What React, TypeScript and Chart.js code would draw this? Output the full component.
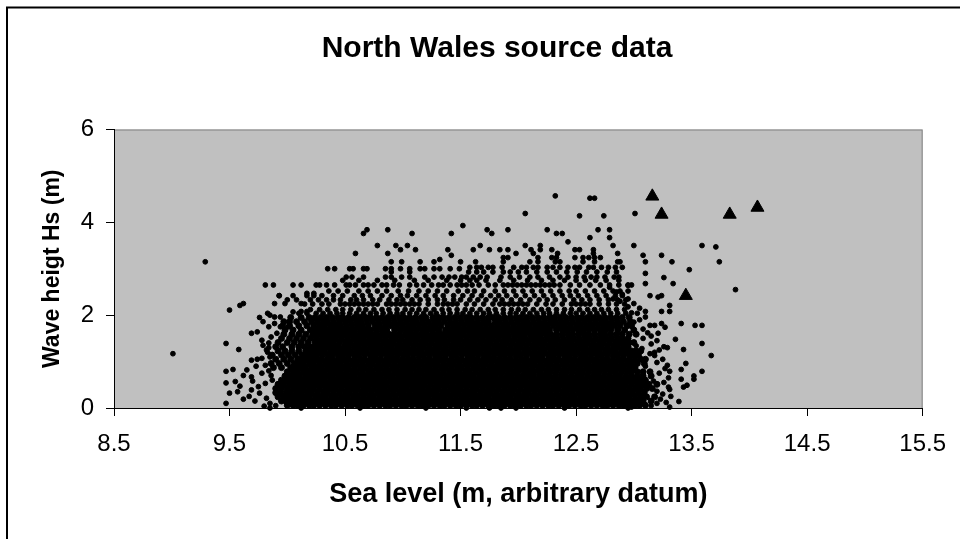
import React, { useEffect, useRef } from 'react';
import { Chart, registerables } from 'chart.js';

Chart.register(...registerables);

const chartTitle = 'North Wales source data';
const xAxisTitle = 'Sea level (m, arbitrary datum)';
const yAxisTitle = 'Wave heigt Hs (m)';

const xTickValues = [8.5, 9.5, 10.5, 11.5, 12.5, 13.5, 14.5, 15.5];
const yTickValues = [0, 2, 4, 6];

// Hs levels (m) and the sea levels (m) of the records seen along each level
const hsLevels = [
  0.06, 0.15, 0.24, 0.33, 0.42, 0.51, 0.6, 0.69, 0.78, 0.87, 0.96, 1.05, 1.14, 1.23, 1.32, 1.41, 1.5,
  1.59, 1.68, 1.77, 1.86, 1.95, 2.04, 2.12, 2.24, 2.33, 2.42, 2.52, 2.65, 2.75, 2.82,
  2.93, 3.0, 3.03, 3.15, 3.2, 3.24, 3.29, 3.33, 3.41, 3.47, 3.5, 3.58, 3.67, 3.76, 3.84, 3.93, 4.14, 4.19, 4.52, 4.57,
];

const seaLevelRows: number[][] = [
  [10.0,10.05,10.09,10.14,10.19,10.23,10.28,10.33,10.38,10.42,10.47,10.52,10.56,10.61,10.66,10.7,10.75,10.8,10.85,10.89,10.94,10.99,11.03,11.08,11.13,11.17,11.22,11.27,11.32,11.36,11.41,11.46,11.5,11.55,11.6,11.64,11.69,11.74,11.79,11.83,11.88,11.93,11.97,12.02,12.07,12.11,12.16,12.21,12.26,12.3,12.35,12.4,12.44,12.49,12.54,12.58,12.63,12.68,12.73,12.77,12.82,12.87,12.91,12.96,13.01,13.05,13.1],
  [9.95,9.99,10.03,10.07,10.12,10.16,10.21,10.26,10.3,10.35,10.4,10.45,10.49,10.54,10.59,10.63,10.68,10.73,10.77,10.82,10.87,10.92,10.96,11.01,11.06,11.1,11.15,11.2,11.24,11.29,11.34,11.39,11.43,11.48,11.53,11.57,11.62,11.67,11.71,11.76,11.81,11.86,11.9,11.95,12.0,12.04,12.09,12.14,12.18,12.23,12.28,12.33,12.37,12.42,12.47,12.51,12.56,12.61,12.65,12.7,12.75,12.8,12.84,12.89,12.94,12.98,13.03,13.08,13.15],
  [9.92,9.97,10.01,10.05,10.1,10.14,10.19,10.24,10.28,10.33,10.38,10.42,10.47,10.52,10.57,10.61,10.66,10.71,10.75,10.8,10.85,10.89,10.94,10.99,11.04,11.08,11.13,11.18,11.22,11.27,11.32,11.36,11.41,11.46,11.51,11.55,11.6,11.65,11.69,11.74,11.79,11.83,11.88,11.93,11.98,12.02,12.07,12.12,12.16,12.21,12.26,12.3,12.35,12.4,12.45,12.49,12.54,12.59,12.63,12.68,12.73,12.77,12.82,12.87,12.92,12.96,13.01,13.06,13.11,13.18],
  [9.9,9.94,9.99,10.03,10.08,10.12,10.17,10.21,10.26,10.31,10.35,10.4,10.45,10.5,10.54,10.59,10.64,10.68,10.73,10.78,10.82,10.87,10.92,10.97,11.01,11.06,11.11,11.15,11.2,11.25,11.29,11.34,11.39,11.44,11.48,11.53,11.58,11.62,11.67,11.72,11.76,11.81,11.86,11.91,11.95,12.0,12.05,12.09,12.14,12.19,12.23,12.28,12.33,12.38,12.42,12.47,12.52,12.56,12.61,12.66,12.7,12.75,12.8,12.85,12.89,12.94,12.99,13.04,13.09],
  [9.9,9.95,10.0,10.05,10.1,10.14,10.19,10.23,10.28,10.33,10.37,10.42,10.47,10.52,10.56,10.61,10.66,10.7,10.75,10.8,10.84,10.89,10.94,10.99,11.03,11.08,11.13,11.17,11.22,11.27,11.31,11.36,11.41,11.46,11.5,11.55,11.6,11.64,11.69,11.74,11.78,11.83,11.88,11.93,11.97,12.02,12.07,12.11,12.16,12.21,12.25,12.3,12.35,12.4,12.44,12.49,12.54,12.58,12.63,12.68,12.72,12.77,12.82,12.87,12.91,12.96,13.01,13.06,13.11,13.16],
  [9.92,9.97,10.02,10.07,10.12,10.17,10.21,10.26,10.3,10.35,10.39,10.44,10.49,10.54,10.58,10.63,10.68,10.72,10.77,10.82,10.86,10.91,10.96,11.01,11.05,11.1,11.15,11.19,11.24,11.29,11.33,11.38,11.43,11.48,11.52,11.57,11.62,11.66,11.71,11.76,11.8,11.85,11.9,11.95,11.99,12.04,12.09,12.13,12.18,12.23,12.27,12.32,12.37,12.42,12.46,12.51,12.56,12.6,12.65,12.7,12.74,12.79,12.84,12.89,12.93,12.98,13.03,13.08,13.13,13.2],
  [9.95,10.0,10.04,10.09,10.14,10.19,10.23,10.28,10.32,10.37,10.42,10.46,10.51,10.56,10.6,10.65,10.7,10.75,10.79,10.84,10.89,10.93,10.98,11.03,11.07,11.12,11.17,11.22,11.26,11.31,11.36,11.4,11.45,11.5,11.54,11.59,11.64,11.69,11.73,11.78,11.83,11.87,11.92,11.97,12.01,12.06,12.11,12.16,12.2,12.25,12.3,12.34,12.39,12.44,12.48,12.53,12.58,12.63,12.67,12.72,12.77,12.81,12.86,12.91,12.95,13.0,13.05,13.1],
  [9.98,10.02,10.07,10.11,10.16,10.21,10.25,10.3,10.34,10.39,10.44,10.49,10.53,10.58,10.63,10.67,10.72,10.77,10.81,10.86,10.91,10.96,11.0,11.05,11.1,11.14,11.19,11.24,11.28,11.33,11.38,11.43,11.47,11.52,11.57,11.61,11.66,11.71,11.75,11.8,11.85,11.9,11.94,11.99,12.04,12.08,12.13,12.18,12.22,12.27,12.32,12.37,12.41,12.46,12.51,12.55,12.6,12.65,12.69,12.74,12.79,12.84,12.88,12.93,12.98,13.03,13.08,13.15],
  [10.0,10.05,10.09,10.14,10.18,10.23,10.28,10.32,10.37,10.42,10.46,10.51,10.56,10.6,10.65,10.7,10.74,10.79,10.84,10.88,10.93,10.98,11.02,11.07,11.12,11.16,11.21,11.26,11.3,11.35,11.4,11.44,11.49,11.54,11.58,11.63,11.68,11.72,11.77,11.82,11.86,11.91,11.96,12.0,12.05,12.1,12.14,12.19,12.24,12.28,12.33,12.38,12.42,12.47,12.52,12.56,12.61,12.66,12.7,12.75,12.8,12.84,12.89,12.94,12.98,13.03,13.08,13.14],
  [9.88,9.95,10.03,10.07,10.12,10.16,10.21,10.25,10.3,10.35,10.39,10.44,10.49,10.53,10.58,10.63,10.67,10.72,10.77,10.81,10.86,10.91,10.95,11.0,11.05,11.09,11.14,11.19,11.23,11.28,11.33,11.37,11.42,11.47,11.51,11.56,11.61,11.65,11.7,11.75,11.79,11.84,11.89,11.93,11.98,12.03,12.07,12.12,12.17,12.21,12.26,12.31,12.35,12.4,12.45,12.49,12.54,12.59,12.63,12.68,12.73,12.77,12.82,12.87,12.91,12.96,13.01],
  [9.86,9.93,10.0,10.06,10.1,10.14,10.19,10.23,10.28,10.33,10.37,10.42,10.46,10.51,10.56,10.6,10.65,10.7,10.74,10.79,10.84,10.88,10.93,10.98,11.02,11.07,11.12,11.16,11.21,11.26,11.3,11.35,11.4,11.44,11.49,11.54,11.58,11.63,11.68,11.72,11.77,11.82,11.86,11.91,11.96,12.0,12.05,12.1,12.14,12.19,12.24,12.28,12.33,12.38,12.42,12.47,12.52,12.56,12.61,12.66,12.7,12.75,12.8,12.84,12.89,12.94,12.98,13.03,13.09],
  [9.9,9.97,10.03,10.09,10.12,10.16,10.21,10.26,10.3,10.35,10.39,10.44,10.49,10.53,10.58,10.63,10.67,10.72,10.77,10.81,10.86,10.91,10.95,11.0,11.05,11.09,11.14,11.19,11.23,11.28,11.33,11.37,11.42,11.47,11.51,11.56,11.61,11.65,11.7,11.75,11.79,11.84,11.89,11.93,11.98,12.03,12.07,12.12,12.17,12.21,12.26,12.31,12.35,12.4,12.45,12.49,12.54,12.59,12.63,12.68,12.73,12.77,12.82,12.87,12.91,12.96,13.01,13.06,13.1],
  [9.87,9.95,10.01,10.07,10.13,10.17,10.21,10.25,10.3,10.35,10.39,10.44,10.48,10.53,10.58,10.62,10.67,10.72,10.76,10.81,10.86,10.9,10.95,11.0,11.04,11.09,11.14,11.18,11.23,11.28,11.32,11.37,11.42,11.46,11.51,11.56,11.6,11.65,11.7,11.74,11.79,11.84,11.88,11.93,11.98,12.02,12.07,12.12,12.16,12.21,12.26,12.3,12.35,12.4,12.44,12.49,12.54,12.58,12.63,12.68,12.72,12.77,12.82,12.86,12.91,12.96,13.0,13.04],
  [9.92,9.98,10.04,10.1,10.16,10.2,10.24,10.28,10.32,10.37,10.41,10.46,10.51,10.55,10.6,10.65,10.69,10.74,10.79,10.83,10.88,10.93,10.97,11.02,11.07,11.11,11.16,11.21,11.25,11.3,11.35,11.39,11.44,11.49,11.53,11.58,11.63,11.67,11.72,11.77,11.81,11.86,11.91,11.95,12.0,12.05,12.09,12.14,12.19,12.23,12.28,12.33,12.37,12.42,12.47,12.51,12.56,12.61,12.65,12.7,12.75,12.79,12.84,12.89,12.93,12.98,13.02,13.06],
  [9.9,9.96,10.04,10.1,10.15,10.2,10.24,10.28,10.32,10.36,10.4,10.44,10.49,10.53,10.58,10.62,10.67,10.72,10.76,10.81,10.86,10.9,10.95,11.0,11.04,11.09,11.14,11.18,11.23,11.28,11.32,11.37,11.42,11.46,11.51,11.56,11.6,11.65,11.7,11.74,11.79,11.84,11.88,11.93,11.98,12.02,12.07,12.12,12.16,12.21,12.26,12.3,12.35,12.4,12.44,12.49,12.54,12.58,12.63,12.68,12.72,12.77,12.82,12.86,12.91,12.95],
  [9.92,10.0,10.06,10.12,10.18,10.24,10.28,10.32,10.36,10.4,10.45,10.5,10.55,10.6,10.64,10.69,10.74,10.78,10.83,10.88,10.92,10.97,11.02,11.06,11.11,11.16,11.2,11.25,11.3,11.34,11.39,11.44,11.48,11.53,11.58,11.62,11.67,11.72,11.76,11.81,11.86,11.9,11.95,12.0,12.04,12.09,12.14,12.18,12.23,12.28,12.32,12.37,12.42,12.46,12.51,12.56,12.6,12.65,12.7,12.74,12.79,12.84,12.88,12.92,12.96,13.0],
  [9.95,10.02,10.08,10.14,10.2,10.25,10.3,10.34,10.38,10.42,10.47,10.52,10.57,10.62,10.66,10.71,10.76,10.8,10.85,10.9,10.94,10.99,11.04,11.08,11.13,11.18,11.22,11.27,11.32,11.36,11.41,11.46,11.5,11.55,11.6,11.64,11.69,11.74,11.78,11.83,11.88,11.92,11.97,12.02,12.06,12.11,12.16,12.2,12.25,12.3,12.34,12.39,12.44,12.48,12.53,12.58,12.62,12.67,12.72,12.76,12.81,12.86,12.9,12.95],
  [9.97,10.04,10.1,10.16,10.22,10.27,10.31,10.36,10.41,10.45,10.5,10.55,10.59,10.64,10.69,10.73,10.78,10.83,10.88,10.92,10.97,11.02,11.06,11.11,11.16,11.2,11.25,11.3,11.34,11.39,11.44,11.49,11.53,11.58,11.63,11.67,11.72,11.77,11.81,11.86,11.91,11.96,12.0,12.05,12.1,12.14,12.19,12.24,12.28,12.33,12.38,12.43,12.47,12.52,12.57,12.61,12.66,12.71,12.75,12.8,12.85,12.9,12.96,13.02],
  [9.98,10.05,10.12,10.2,10.25,10.3,10.34,10.39,10.44,10.48,10.53,10.58,10.63,10.67,10.72,10.77,10.82,10.86,10.93,10.98,11.03,11.07,11.12,11.17,11.21,11.26,11.31,11.37,11.42,11.46,11.51,11.56,11.6,11.65,11.7,11.75,11.79,11.84,11.89,11.94,11.98,12.03,12.08,12.13,12.17,12.22,12.27,12.33,12.38,12.42,12.47,12.52,12.56,12.61,12.66,12.71,12.75,12.8,12.86,12.92,13.0],
  [9.96,10.02,10.1,10.17,10.23,10.28,10.32,10.37,10.42,10.46,10.51,10.56,10.61,10.65,10.7,10.76,10.8,10.85,10.9,10.95,11.0,11.05,11.09,11.14,11.19,11.24,11.28,11.33,11.39,11.44,11.48,11.53,11.58,11.62,11.67,11.72,11.77,11.82,11.87,11.91,11.96,12.01,12.06,12.1,12.15,12.2,12.25,12.3,12.35,12.4,12.45,12.5,12.54,12.59,12.64,12.69,12.74,12.78,12.83,12.88,12.94,12.98],
  [9.97,10.02,10.08,10.15,10.21,10.26,10.31,10.35,10.4,10.45,10.5,10.55,10.6,10.64,10.69,10.74,10.79,10.84,10.88,10.93,10.98,11.03,11.08,11.12,11.17,11.22,11.27,11.31,11.36,11.41,11.46,11.51,11.56,11.6,11.65,11.7,11.74,11.8,11.84,11.89,11.94,11.99,12.04,12.08,12.13,12.18,12.23,12.28,12.32,12.37,12.42,12.47,12.52,12.57,12.62,12.67,12.72,12.76,12.81,12.86,12.91,12.97],
  [10.03,10.12,10.19,10.24,10.29,10.34,10.39,10.44,10.48,10.53,10.58,10.63,10.68,10.72,10.77,10.82,10.87,10.92,10.97,11.01,11.06,11.11,11.16,11.2,11.26,11.31,11.35,11.4,11.45,11.5,11.55,11.59,11.64,11.69,11.74,11.78,11.83,11.88,11.93,11.98,12.02,12.07,12.12,12.17,12.22,12.27,12.31,12.36,12.41,12.46,12.51,12.55,12.6,12.65,12.7,12.75,12.8,12.85,12.9,12.96],
  [10.1,10.17,10.25,10.31,10.37,10.43,10.48,10.54,10.6,10.66,10.72,10.77,10.83,10.89,10.95,11.0,11.06,11.12,11.18,11.24,11.29,11.35,11.41,11.47,11.52,11.58,11.64,11.7,11.75,11.81,11.87,11.93,11.98,12.04,12.1,12.16,12.22,12.27,12.33,12.39,12.45,12.5,12.56,12.62,12.68,12.74,12.8,12.86,12.93],
  [10.2,10.28,10.35,10.42,10.48,10.55,10.62,10.68,10.75,10.82,10.88,10.95,11.02,11.08,11.14,11.2,11.27,11.34,11.4,11.47,11.54,11.6,11.67,11.74,11.8,11.87,11.94,12.0,12.06,12.13,12.2,12.26,12.33,12.4,12.46,12.53,12.6,12.66,12.72,12.78,12.85,12.92],
  [10.15,10.22,10.3,10.36,10.46,10.5,10.54,10.58,10.62,10.66,10.7,10.74,10.78,10.86,10.9,10.94,10.98,11.02,11.06,11.1,11.14,11.22,11.3,11.35,11.39,11.43,11.47,11.55,11.62,11.7,11.78,11.84,11.88,11.92,11.96,12.0,12.04,12.08,12.16,12.24,12.3,12.38,12.46,12.5,12.54,12.58,12.62,12.7,12.78,12.85,12.92],
  [10.0,10.08,10.2,10.27,10.34,10.4,10.46,10.55,10.6,10.66,10.74,10.8,10.88,10.95,11.0,11.08,11.15,11.22,11.3,11.36,11.44,11.5,11.58,11.65,11.72,11.8,11.86,11.94,12.02,12.1,12.18,12.25,12.32,12.4,12.48,12.55,12.62,12.7,12.78,12.86,12.93],
  [9.93,10.05,10.17,10.23,10.3,10.4,10.48,10.58,10.65,10.72,10.82,10.9,10.98,11.04,11.12,11.2,11.28,11.35,11.44,11.52,11.6,11.68,11.76,11.83,11.9,11.98,12.06,12.14,12.22,12.3,12.38,12.45,12.52,12.6,12.68,12.76,12.84,12.9],
  [10.36,10.44,10.52,10.62,10.7,10.78,10.86,10.96,11.05,11.14,11.22,11.3,11.38,11.48,11.56,11.62,11.7,11.8,11.88,11.96,12.04,12.12,12.2,12.28,12.36,12.44,12.5,12.58,12.66,12.74,12.82,12.88,12.95],
  [9.81,9.88,10.05,10.12,10.25,10.28,10.34,10.41,10.51,10.54,10.59,10.66,10.7,10.75,10.82,10.86,10.92,10.97,11.06,11.12,11.18,11.25,11.31,11.35,11.41,11.47,11.51,11.55,11.6,11.66,11.74,11.8,11.87,11.91,11.95,11.99,12.03,12.07,12.11,12.15,12.19,12.23,12.27,12.31,12.36,12.45,12.53,12.62,12.71,12.79,12.87,12.95,12.98],
  [10.48,10.62,10.78,10.93,11.1,11.22,11.38,11.5,11.58,11.64,11.72,11.84,11.96,12.08,12.2,12.3,12.4,12.5,12.58,12.67,12.76,12.87],
  [10.51,10.56,10.66,10.85,10.9,10.99,11.06,11.19,11.27,11.34,11.4,11.45,11.51,11.55,11.61,11.67,11.73,11.85,11.93,12.01,12.1,12.17,12.27,12.36,12.43,12.5,12.57,12.63,12.68,12.75,12.83,12.87],
  [10.9,11.06,11.57,11.64,11.7,11.78,11.87,11.93,12.0,12.07,12.16,12.25,12.33,12.42,12.51,12.59,12.68,12.77,12.85],
  [10.35,10.41,10.54,10.57,10.66,10.69,10.85,10.9,10.98,11.06,11.15,11.19,11.27,11.32,11.41,11.49],
  [11.58,11.64,11.68,11.74,11.78,11.86,11.96,12.03,12.07,12.13,12.17,12.25,12.3,12.36,12.43,12.49,12.53,12.61,12.65,12.72,12.78,12.84,12.9],
  [9.29,10.9,10.99,11.15,11.27,11.5,11.63,11.87,12.1,12.17,12.32,12.36,12.56,12.66,12.86,13.1,13.33,13.74],
  [11.32],
  [11.87,11.91,12.17,12.29,12.33,12.49,12.56,12.61,12.66,12.71],
  [11.42,13.08,13.24],
  [10.59,10.87,11.98,12.13,12.34,12.65,12.86],
  [10.98,11.11,11.39,11.61,11.75,11.84,11.91,12.11,12.19,12.29,12.49,12.53,12.65],
  [13.71],
  [10.78,10.94,11.04,11.67,12.06,12.19,12.82,13.0,13.59],
  [12.43],
  [12.62,12.79],
  [10.66,11.08,11.42,11.77,12.33,12.38],
  [10.69,10.87,11.73,11.91,12.25,12.69,12.79],
  [11.52],
  [12.53,12.74],
  [12.06,13.01],
  [12.62,12.66],
  [12.32],
];

// Isolated records at the fringes of the cloud: [sea level, Hs]
const fringePoints: [number, number][] = [
  [9.01, 1.17], [9.5, 2.11], [9.59, 2.21], [9.62, 2.25], [9.47, 1.39], [9.58, 1.26], [9.47, 0.79], [9.53, 0.83],
  [9.47, 0.54], [9.5, 0.32], [9.47, 0.1], [9.62, 0.7], [9.59, 0.47], [9.62, 0.19], [9.69, 0.39], [9.65, 0.82],
  [9.69, 1.03], [9.74, 1.05], [9.69, 0.67], [9.76, 1.95], [9.83, 2.04], [9.69, 1.61], [9.74, 1.64], [9.93, 2.42],
  [9.89, 2.25], [9.98, 2.25], [10.17, 2.47], [10.23, 2.47], [10.12, 2.25], [10.05, 2.07], [10.12, 2.08], [10.17, 2.08],
  [9.75, 0.46], [9.81, 0.53], [9.76, 0.32], [9.82, 0.21], [9.78, 1.46], [9.79, 1.35], [9.82, 1.25], [9.79, 1.86],
  [9.84, 1.75], [9.85, 2.0], [9.78, 1.07], [9.81, 0.92], [9.89, 1.96], [9.94, 1.96], [9.89, 1.82], [9.94, 1.75],
  [10.01, 1.75], [9.91, 1.61], [9.86, 1.53], [9.84, 1.4], [9.85, 1.1], [9.83, 1.2], [9.84, 1.3],
  [9.86, 0.7], [9.87, 0.6], [9.84, 0.8],
  [9.85, 0.1], [9.9, 0.05], [9.72, 0.15], [9.7, 0.58], [9.73, 0.9], [9.78, 0.75], [9.8, 0.04], [9.67, 0.25],
  [9.55, 0.57], [9.57, 0.35], [10.12, 0.0], [10.63, 0.0], [11.2, 0.0], [11.55, 0.0], [11.75, 0.0], [11.85, 0.0],
  [11.98, 0.0], [12.4, 0.0], [12.95, 0.0], [13.31, 0.02], [12.98, 0.02], [9.85, 0.0],
  [13.48, 2.98], [13.1, 2.9], [13.26, 2.81], [13.1, 2.68], [13.34, 2.68], [12.95, 2.64], [13.14, 2.42],
  [13.21, 2.39], [13.24, 2.42], [13.31, 2.21], [13.31, 2.08], [13.24, 2.08], [13.03, 2.04], [13.1, 2.08], [13.1, 1.96],
  [13.41, 1.82], [13.53, 1.78], [13.59, 1.78], [13.59, 1.39], [13.67, 1.13], [13.36, 1.48], [13.43, 1.26], [13.45, 0.96],
  [13.41, 0.83], [13.59, 0.79], [13.52, 0.69], [13.52, 0.62], [13.46, 0.49], [13.43, 0.45], [13.39, 0.14], [13.24, 1.82],
  [13.14, 1.78], [13.18, 1.78], [13.27, 1.74], [13.21, 1.61], [13.26, 1.32], [13.29, 1.3], [13.18, 1.13], [13.29, 0.92],
  [13.31, 0.79], [13.41, 0.62], [13.31, 0.4], [13.23, 0.19], [13.88, 2.55], [12.88, 3.15],
  [12.79, 2.6], [12.85, 2.5], [12.9, 2.45], [12.82, 2.35], [12.88, 2.3], [12.95, 2.35], [13.0, 2.25], [12.95, 2.18],
  [13.05, 2.15], [12.98, 2.05], [13.05, 1.9], [13.0, 1.85], [13.08, 1.7], [13.12, 1.62], [13.15, 1.55], [13.08, 1.5],
  [13.2, 1.45], [13.15, 1.38], [13.22, 1.25], [13.18, 1.2], [13.25, 1.05], [13.2, 0.98], [13.27, 0.85], [13.22, 0.75],
  [13.3, 0.65], [13.26, 0.55], [13.3, 0.45], [13.25, 0.3], [13.32, 0.25], [13.2, 0.1], [13.15, 0.05], [13.28, 0.12],
  [13.2, 0.36], [13.17, 0.58], [13.1, 0.9], [13.14, 1.17], [13.02, 1.34], [13.07, 1.28],
];

// Triangle markers (selected extreme events)
const extremeSeaLevel = [13.16, 13.24, 13.45, 13.83, 14.07];
const extremeHs = [4.56, 4.17, 2.42, 4.17, 4.32];

// Rows at or below this Hs lie inside the solid-black core of the cloud
const denseCoreTopHs = 1.95;

const FONT = "'Liberation Sans', Arial, sans-serif";

const framePlugin = {
  id: 'frameAndTitle',
  beforeDraw(chart: any) {
    const { ctx, chartArea: a, width, height } = chart;
    ctx.save();
    ctx.fillStyle = '#ffffff';
    ctx.fillRect(0, 0, width, height);
    ctx.strokeStyle = '#000000';
    ctx.lineWidth = 2;
    ctx.beginPath();
    ctx.moveTo(7, height);
    ctx.lineTo(7, 7.5);
    ctx.lineTo(width, 7.5);
    ctx.stroke();
    ctx.fillStyle = '#c0c0c0';
    ctx.fillRect(a.left, a.top, a.right - a.left, a.bottom - a.top);
    ctx.strokeStyle = '#808080';
    ctx.lineWidth = 1;
    ctx.strokeRect(a.left + 0.5, a.top + 0.5, a.right - a.left - 1, a.bottom - a.top);
    ctx.fillStyle = '#000000';
    ctx.font = `bold 30px ${FONT}`;
    ctx.textAlign = 'center';
    ctx.textBaseline = 'middle';
    ctx.fillText(chartTitle, 497, 49);
    ctx.restore();
  },
};

export default function App() {
  const canvasRef = useRef<HTMLCanvasElement | null>(null);

  useEffect(() => {
    document.body.style.margin = '0';
    const canvas = canvasRef.current;
    if (!canvas) return;

    const corePoints: { x: number; y: number }[] = [];
    const outerPoints: { x: number; y: number }[] = [];
    hsLevels.forEach((hs, i) => {
      const target = hs <= denseCoreTopHs ? corePoints : outerPoints;
      (seaLevelRows[i] || []).forEach((sl) => target.push({ x: sl, y: hs }));
    });
    fringePoints.forEach(([sl, hs]) => outerPoints.push({ x: sl, y: hs }));
    const extremePoints = extremeSeaLevel.map((sl, i) => ({ x: sl, y: extremeHs[i] }));

    const dotStyle = {
      pointStyle: 'circle',
      pointBorderWidth: 1,
      pointBackgroundColor: '#000000',
      pointBorderColor: '#000000',
      clip: false,
    };

    const chart = new Chart(canvas, {
      type: 'scatter',
      data: {
        datasets: [
          {
            label: 'Extreme events',
            data: extremePoints,
            pointStyle: 'triangle',
            pointRadius: 7.5,
            pointBorderWidth: 1,
            pointBackgroundColor: '#000000',
            pointBorderColor: '#000000',
            clip: false,
          },
          { label: 'Source data', data: outerPoints, pointRadius: 2.4, ...dotStyle },
          { label: 'Source data (dense core)', data: corePoints, pointRadius: 3.0, ...dotStyle },
        ] as any,
      },
      options: {
        animation: false,
        responsive: false,
        devicePixelRatio: 1,
        events: [],
        layout: { padding: { top: 129.5, right: 36.5, bottom: 0, left: 0 } },
        plugins: {
          legend: { display: false },
          tooltip: { enabled: false },
          title: { display: false },
        },
        scales: {
          x: {
            type: 'linear',
            position: 'bottom',
            min: 8.5,
            max: 15.5,
            afterBuildTicks: (scale: any) => {
              scale.ticks = xTickValues.map((v) => ({ value: v }));
            },
            afterFit: (scale: any) => {
              scale.height = 539 - 408;
            },
            ticks: {
              color: '#000000',
              font: { family: FONT, size: 24 },
              padding: 14,
              maxRotation: 0,
              autoSkip: false,
              callback: (v: any) => Number(v).toFixed(1),
            },
            grid: { display: true, drawOnChartArea: false, drawTicks: true, tickLength: 8, color: '#000000', lineWidth: 1 },
            border: { display: true, color: '#000000', width: 1 },
            title: {
              display: true,
              text: xAxisTitle,
              color: '#000000',
              font: { family: FONT, size: 27, weight: 'bold' },
              padding: { top: 0, bottom: 28 },
            },
          },
          y: {
            type: 'linear',
            min: 0,
            max: 6,
            afterBuildTicks: (scale: any) => {
              scale.ticks = yTickValues.map((v) => ({ value: v }));
            },
            afterFit: (scale: any) => {
              scale.width = 114;
            },
            ticks: {
              color: '#000000',
              font: { family: FONT, size: 24 },
              padding: 12,
              autoSkip: false,
              callback: (v: any) => String(v),
            },
            grid: { display: true, drawOnChartArea: false, drawTicks: true, tickLength: 8, color: '#000000', lineWidth: 1 },
            border: { display: true, color: '#000000', width: 1 },
            title: {
              display: true,
              text: yAxisTitle,
              color: '#000000',
              font: { family: FONT, size: 23, weight: 'bold' },
              padding: { top: 39, bottom: 0 },
            },
          },
        },
      },
      plugins: [framePlugin],
    });

    return () => chart.destroy();
  }, []);

  return (
    <div style={{ width: 960, height: 539, position: 'relative', background: '#ffffff' }}>
      <canvas ref={canvasRef} width={960} height={539} style={{ display: 'block' }} />
    </div>
  );
}
